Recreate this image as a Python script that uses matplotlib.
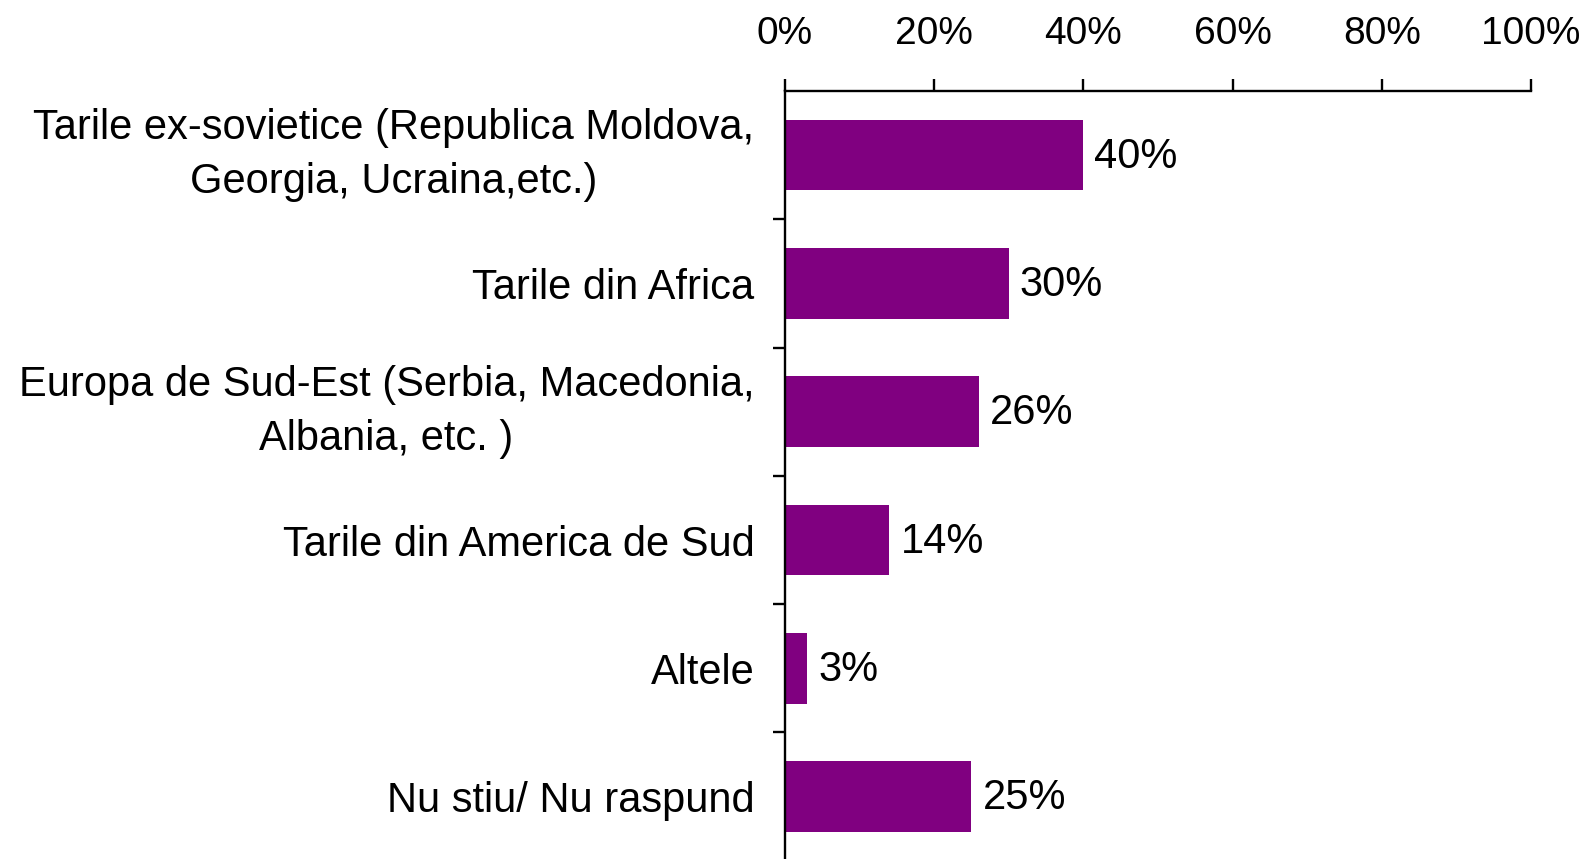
import matplotlib
matplotlib.use("Agg")
import matplotlib.pyplot as plt
import numpy as np

plt.rcParams['font.family'] = ['Liberation Sans', 'DejaVu Sans']

categories = [
    "Tarile ex-sovietice (Republica Moldova,\nGeorgia, Ucraina,etc.)",
    "Tarile din Africa",
    "Europa de Sud-Est (Serbia, Macedonia,\nAlbania, etc. )",
    "Tarile din America de Sud",
    "Altele",
    "Nu stiu/ Nu raspund",
]
values = [40, 30, 26, 14, 3, 25]
x_ticks = [0, 20, 40, 60, 80, 100]
x_tick_labels = ["0%", "20%", "40%", "60%", "80%", "100%"]

bar_color = "#800080"
fs = 30

fig = plt.figure(figsize=(15.87, 8.59), dpi=100)
ax = fig.add_axes([0.4946, -0.002, 0.4701, 0.896])

y = np.arange(len(categories))
bars = ax.barh(y, values, height=0.55, color=bar_color)

# value labels just right of each bar
for b, v in zip(bars, values):
    ax.annotate("{}%".format(v), (b.get_width(), b.get_y() + b.get_height() / 2),
                xytext=(8, 2), textcoords="offset points",
                va="center_baseline", ha="left", fontsize=fs)

ax.set_xlim(0, 100)
ax.set_ylim(len(categories) - 0.5, -0.5)

ax.xaxis.tick_top()
ax.set_xticks(x_ticks)
ax.set_xticklabels(x_tick_labels, fontsize=28)
ax.tick_params(axis="x", direction="out", length=9, width=1.7, pad=19)

ax.set_yticks(y)
ax.set_yticklabels(categories, fontsize=fs, ha="right", multialignment="center",
                   linespacing=1.45)
for lbl in ax.get_yticklabels():
    if "\n" in lbl.get_text():
        lbl.set_va("center")
ax.tick_params(axis="y", which="major", length=0, pad=22)
# separators between categories
ax.set_yticks(np.arange(len(categories)) + 0.5, minor=True)
ax.tick_params(axis="y", which="minor", direction="out", length=9, width=1.7)

for s in ["right", "bottom"]:
    ax.spines[s].set_visible(False)
for s in ["left", "top"]:
    ax.spines[s].set_linewidth(1.7)

fig.savefig("out.png", dpi=100)
